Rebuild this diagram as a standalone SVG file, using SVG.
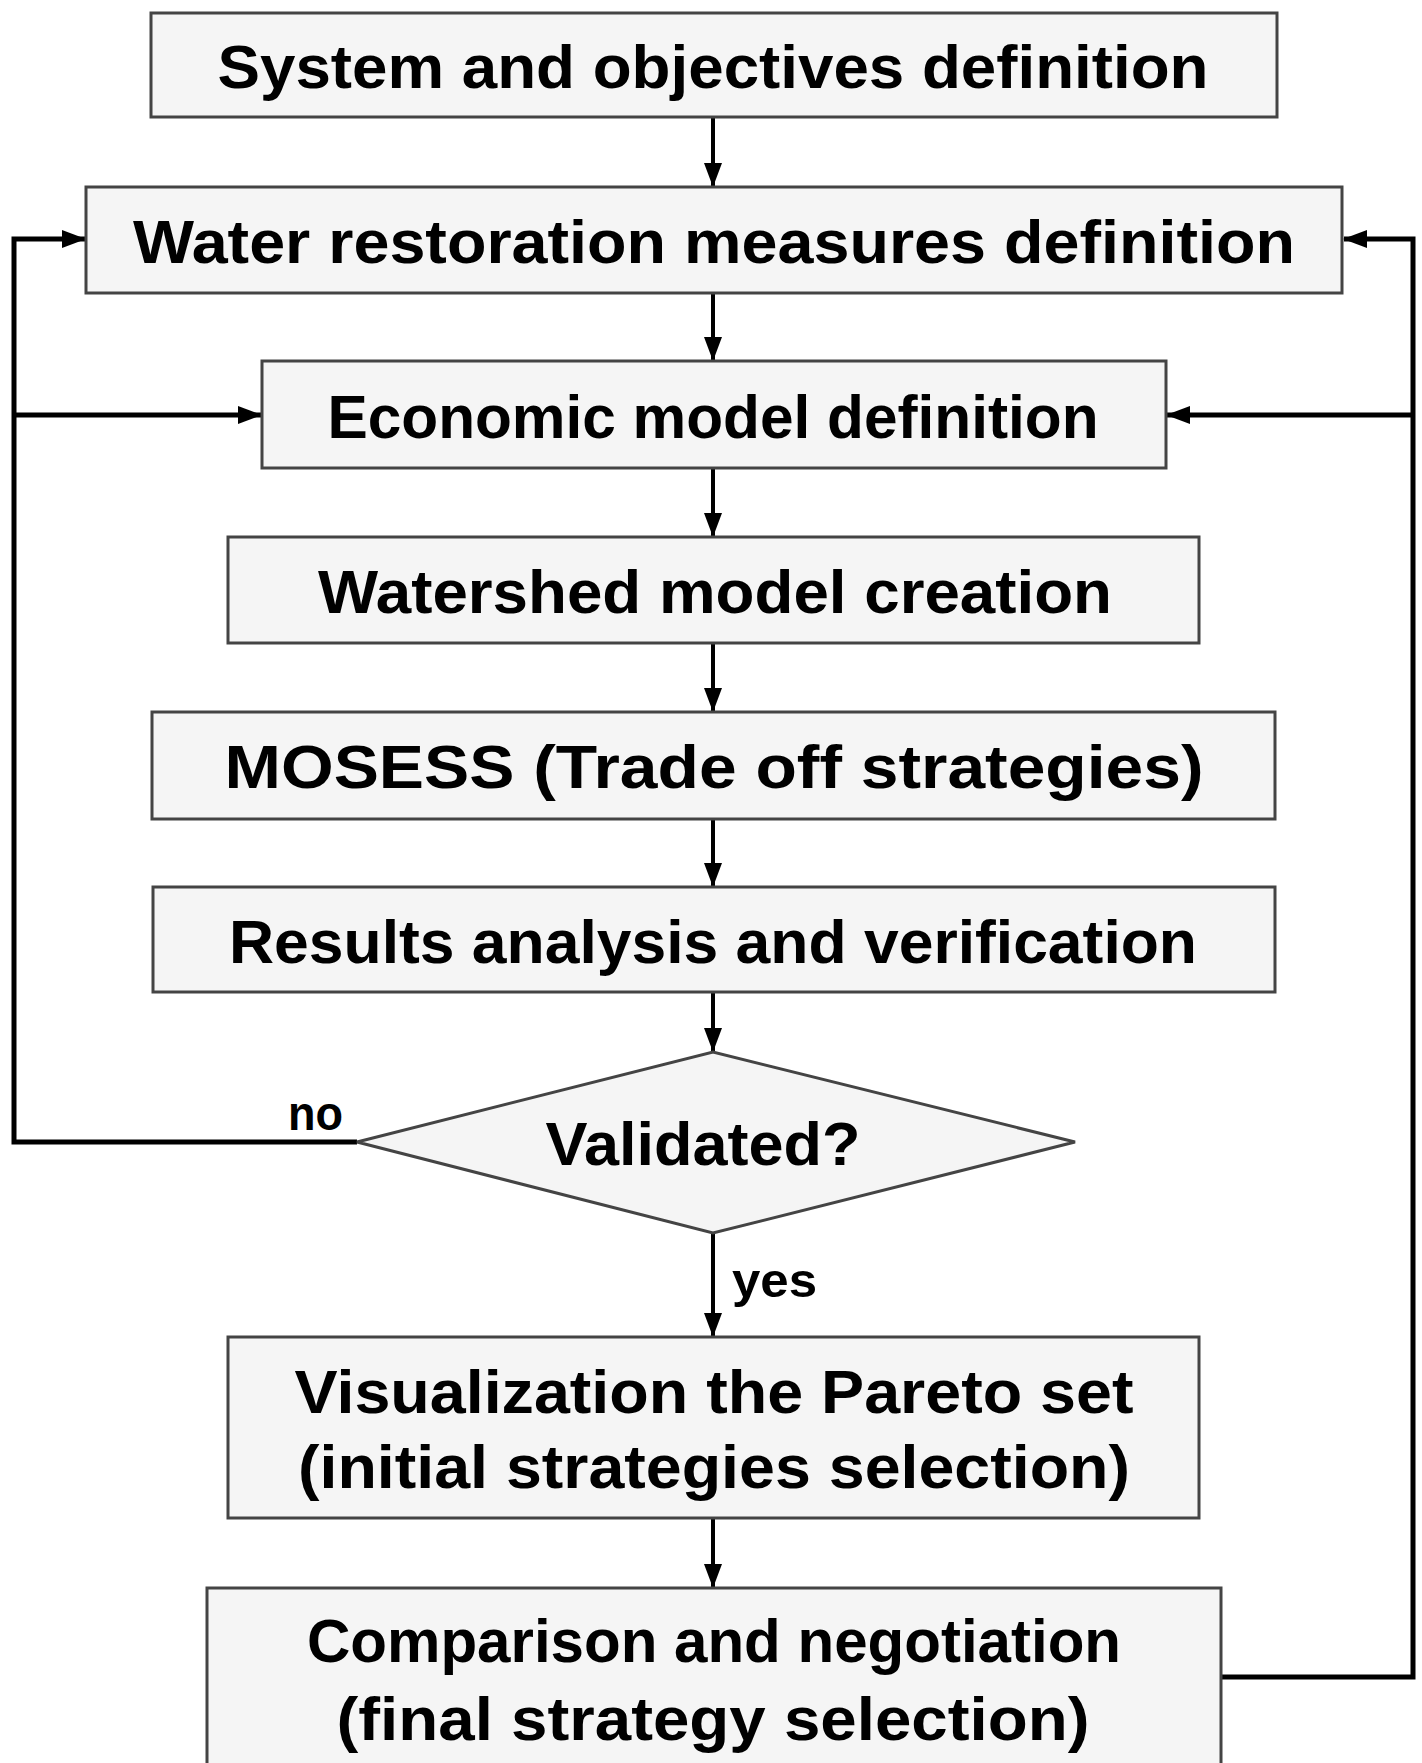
<svg xmlns="http://www.w3.org/2000/svg" width="1422" height="1763" viewBox="0 0 1422 1763">
<style>
.box{fill:#f5f5f5;stroke:#444;stroke-width:3}
.t{font-family:"Liberation Sans",Arial,sans-serif;font-weight:bold;font-size:62px;fill:#000;text-anchor:middle}
.s{font-family:"Liberation Sans",Arial,sans-serif;font-weight:bold;font-size:48px;fill:#000}
.c{fill:none;stroke:#000;stroke-width:4}
.l{fill:none;stroke:#000;stroke-width:5}
</style>
<defs>
<marker id="ah" markerUnits="userSpaceOnUse" markerWidth="24" markerHeight="20" viewBox="0 0 24 20" refX="23" refY="10" orient="auto">
<path d="M0,1 L24,10 L0,19 Z" fill="#000"/>
</marker>
</defs>
<rect width="1422" height="1763" fill="#fff"/>
<g id="connectors">
<line class="c" x1="713" y1="117" x2="713" y2="186" marker-end="url(#ah)"/>
<line class="c" x1="713" y1="293" x2="713" y2="360" marker-end="url(#ah)"/>
<line class="c" x1="713" y1="468" x2="713" y2="536" marker-end="url(#ah)"/>
<line class="c" x1="713" y1="643" x2="713" y2="711" marker-end="url(#ah)"/>
<line class="c" x1="713" y1="819" x2="713" y2="886" marker-end="url(#ah)"/>
<line class="c" x1="713" y1="992" x2="713" y2="1051" marker-end="url(#ah)"/>
<line class="c" x1="713" y1="1233" x2="713" y2="1336" marker-end="url(#ah)"/>
<line class="c" x1="713" y1="1518" x2="713" y2="1587" marker-end="url(#ah)"/>
<path class="l" d="M357,1142 H14 V239 H85" marker-end="url(#ah)"/>
<path class="l" d="M14,415 H261" marker-end="url(#ah)"/>
<path class="l" d="M1221,1677 H1413 V239 H1344" marker-end="url(#ah)"/>
<path class="l" d="M1413,415 H1167" marker-end="url(#ah)"/>
<text class="s" x="288" y="1130" textLength="55" lengthAdjust="spacingAndGlyphs">no</text>
<text class="s" x="732" y="1297" textLength="85" lengthAdjust="spacingAndGlyphs">yes</text>
</g>
<g id="n1">
<rect class="box" x="151" y="13" width="1126" height="104"/>
<text class="t" x="713" y="88" textLength="991" lengthAdjust="spacingAndGlyphs">System and objectives definition</text>
</g>
<g id="n2">
<rect class="box" x="86" y="187" width="1256" height="106"/>
<text class="t" x="714" y="263" textLength="1162" lengthAdjust="spacingAndGlyphs">Water restoration measures definition</text>
</g>
<g id="n3">
<rect class="box" x="262" y="361" width="904" height="107"/>
<text class="t" x="713" y="438" textLength="771" lengthAdjust="spacingAndGlyphs">Economic model definition</text>
</g>
<g id="n4">
<rect class="box" x="228" y="537" width="971" height="106"/>
<text class="t" x="715" y="613" textLength="794" lengthAdjust="spacingAndGlyphs">Watershed model creation</text>
</g>
<g id="n5">
<rect class="box" x="152" y="712" width="1123" height="107"/>
<text class="t" x="714" y="788" textLength="979" lengthAdjust="spacingAndGlyphs">MOSESS (Trade off strategies)</text>
</g>
<g id="n6">
<rect class="box" x="153" y="887" width="1122" height="105"/>
<text class="t" x="713" y="963" textLength="968" lengthAdjust="spacingAndGlyphs">Results analysis and verification</text>
</g>
<g id="n7">
<polygon class="box" points="357,1142 713,1052 1075,1142 713,1233"/>
<text class="t" x="703" y="1165" textLength="315" lengthAdjust="spacingAndGlyphs">Validated?</text>
</g>
<g id="n8">
<rect class="box" x="228" y="1337" width="971" height="181"/>
<text class="t" x="714" y="1413" textLength="839" lengthAdjust="spacingAndGlyphs">Visualization the Pareto set</text>
<text class="t" x="714" y="1488" textLength="832" lengthAdjust="spacingAndGlyphs">(initial strategies selection)</text>
</g>
<g id="n9">
<rect class="box" x="207" y="1588" width="1014" height="200"/>
<text class="t" x="714" y="1662" textLength="814" lengthAdjust="spacingAndGlyphs">Comparison and negotiation</text>
<text class="t" x="713" y="1740" textLength="753" lengthAdjust="spacingAndGlyphs">(final strategy selection)</text>
</g>
</svg>
